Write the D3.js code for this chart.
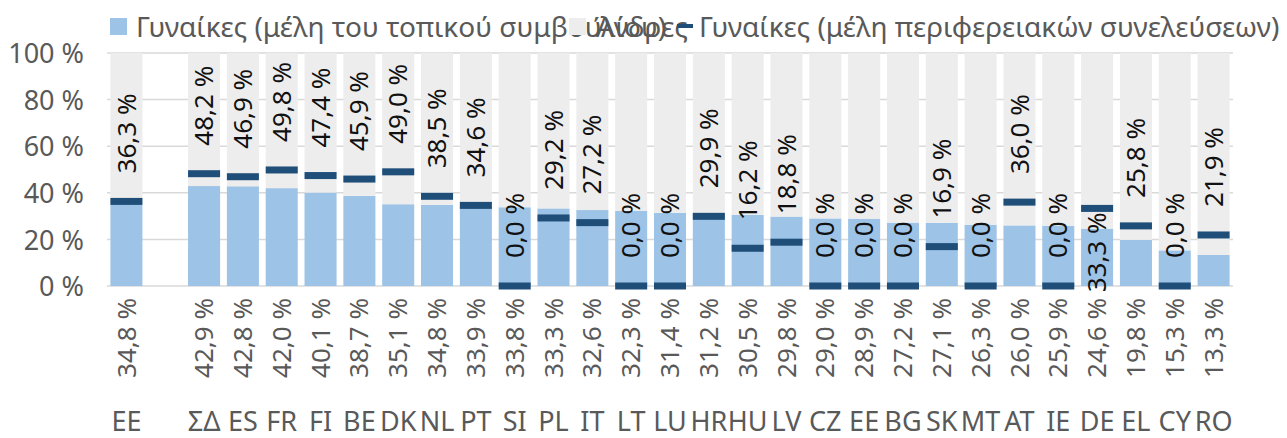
<!DOCTYPE html>
<html>
<head>
<meta charset="utf-8">
<script src="https://cdn.jsdelivr.net/npm/d3@7"></script>
<style>
  body { margin: 0; background: #fff; }
  svg text { font-family: "Noto Sans", "Open Sans", sans-serif; }
  .axis .domain { display: none; }
  .axis line { display: none; }
  .axis text { fill: #595959; font-size: 27px; }
</style>
</head>
<body>
<svg width="1287" height="438"></svg>
<script>
// categories (slot 1 is an empty spacer)
var categories = ["ΕΕ", "", "ΣΔ", "ES", "FR", "FI", "BE", "DK", "NL", "PT", "SI", "PL", "IT", "LT",
                  "LU", "HR", "HU", "LV", "CZ", "EE", "BG", "SK", "MT", "AT", "IE", "DE", "EL", "CY", "RO"];

// Γυναίκες (μέλη του τοπικού συμβουλίου)
var womenLocal = [34.8, null, 42.9, 42.8, 42.0, 40.1, 38.7, 35.1, 34.8, 33.9, 33.8, 33.3, 32.6, 32.3,
                  31.4, 31.2, 30.5, 29.8, 29.0, 28.9, 27.2, 27.1, 26.3, 26.0, 25.9, 24.6, 19.8, 15.3, 13.3];

// Άνδρες
var men = [65.2, null, 57.1, 57.2, 58.0, 59.9, 61.3, 64.9, 65.2, 66.1, 66.2, 66.7, 67.4, 67.7,
           68.6, 68.8, 69.5, 70.2, 71.0, 71.1, 72.8, 72.9, 73.7, 74.0, 74.1, 75.4, 80.2, 84.7, 86.7];

// Γυναίκες (μέλη περιφερειακών συνελεύσεων)
var womenRegional = [36.3, null, 48.2, 46.9, 49.8, 47.4, 45.9, 49.0, 38.5, 34.6, 0.0, 29.2, 27.2, 0.0,
                     0.0, 29.9, 16.2, 18.8, 0.0, 0.0, 0.0, 16.9, 0.0, 36.0, 0.0, 33.3, 25.8, 0.0, 21.9];

var yTicks = [0, 20, 40, 60, 80, 100];

var legendLabels = ["Γυναίκες (μέλη του τοπικού συμβουλίου)", "Άνδρες", "Γυναίκες (μέλη περιφερειακών συνελεύσεων)"];

var colors = { local: "#9DC3E6", men: "#EDEDED", regional: "#1F4E79" };

var locale = d3.formatLocale({ decimal: ",", thousands: ".", grouping: [3], currency: ["", "€"] });
var fmt = locale.format(".1f");
var pct = d => fmt(d) + " %";
var FONT = "Noto Sans, Open Sans, sans-serif";

var svg = d3.select("svg");

var x = d3.scaleBand()
    .domain(d3.range(categories.length))
    .range([107, 1233])
    .paddingInner(0.175)
    .paddingOuter(0.0875);

var y = d3.scaleLinear()
    .domain([0, 100])
    .range([286, 53]);

// gridlines
svg.append("g")
  .selectAll("line")
  .data(yTicks)
  .enter().append("line")
    .attr("x1", 107)
    .attr("x2", 1233)
    .attr("y1", d => y(d))
    .attr("y2", d => y(d))
    .attr("stroke", "#D9D9D9")
    .attr("stroke-width", 1.5);

// y axis labels
svg.append("g")
  .attr("class", "axis")
  .attr("transform", "translate(84, 1)")
  .call(d3.axisLeft(y).tickValues(yTicks).tickSize(0).tickPadding(0).tickFormat(d => d + " %"))
  .attr("font-family", FONT);

// stacked bars
var rows = categories.map((c, i) => ({ i: i, local: womenLocal[i], men: men[i] }))
  .filter(d => d.local !== null);
var stack = d3.stack().keys(["local", "men"])(rows);

svg.append("g")
  .selectAll("g")
  .data(stack)
  .enter().append("g")
    .attr("fill", d => colors[d.key])
  .selectAll("rect")
  .data(d => d)
  .enter().append("rect")
    .attr("x", d => x(d.data.i))
    .attr("y", d => y(d[1]))
    .attr("width", x.bandwidth())
    .attr("height", d => y(d[0]) - y(d[1]));

// regional markers (dash shaped)
var regional = womenRegional.map((v, i) => ({ i: i, v: v })).filter(d => d.v !== null);

svg.append("g")
  .selectAll("rect")
  .data(regional)
  .enter().append("rect")
    .attr("x", d => x(d.i))
    .attr("y", d => y(d.v) - 3.5)
    .attr("width", x.bandwidth())
    .attr("height", 7)
    .attr("fill", colors.regional);

// labels for regional markers (rotated), DE one sits below its marker
var labelBelow = ["DE"];
svg.append("g")
  .attr("font-family", FONT)
  .selectAll("text")
  .data(regional)
  .enter().append("text")
    .attr("transform", d => {
      var below = labelBelow.indexOf(categories[d.i]) >= 0;
      var ty = below ? y(d.v) + 4 : y(d.v) - 28;
      return "translate(" + (x(d.i) + x.bandwidth() / 2) + "," + ty + ") rotate(-90)";
    })
    .attr("text-anchor", d => labelBelow.indexOf(categories[d.i]) >= 0 ? "end" : "start")
    .attr("dy", "0.35em")
    .attr("font-size", 26)
    .attr("fill", "#111")
    .text(d => pct(d.v));

// labels for local values, under the axis
svg.append("g")
  .attr("font-family", FONT)
  .selectAll("text")
  .data(rows)
  .enter().append("text")
    .attr("transform", d => "translate(" + (x(d.i) + x.bandwidth() / 2) + "," + 298 + ") rotate(-90)")
    .attr("text-anchor", "end")
    .attr("dy", "0.35em")
    .attr("font-size", 26)
    .attr("fill", "#595959")
    .text(d => pct(d.local));

// category axis
svg.append("g")
  .attr("class", "axis")
  .attr("transform", "translate(0, 412)")
  .call(d3.axisBottom(x).tickSize(0).tickPadding(0).tickFormat(i => categories[i]))
  .attr("font-family", FONT)
  .selectAll("text")
    .attr("dy", "0.71em");

// legend
var lg = svg.append("g").attr("font-family", FONT).attr("font-size", 28).attr("fill", "#595959");
lg.append("rect").attr("x", 110).attr("y", 18).attr("width", 17).attr("height", 17).attr("fill", colors.local);
lg.append("text").attr("x", 136).attr("y", 37).text(legendLabels[0]);
lg.append("rect").attr("x", 569).attr("y", 18).attr("width", 17).attr("height", 17).attr("fill", colors.men);
lg.append("text").attr("x", 594).attr("y", 37).text(legendLabels[1]);
lg.append("rect").attr("x", 677).attr("y", 24).attr("width", 16).attr("height", 4).attr("fill", colors.regional);
lg.append("text").attr("x", 699).attr("y", 37).text(legendLabels[2]);
</script>
</body>
</html>
